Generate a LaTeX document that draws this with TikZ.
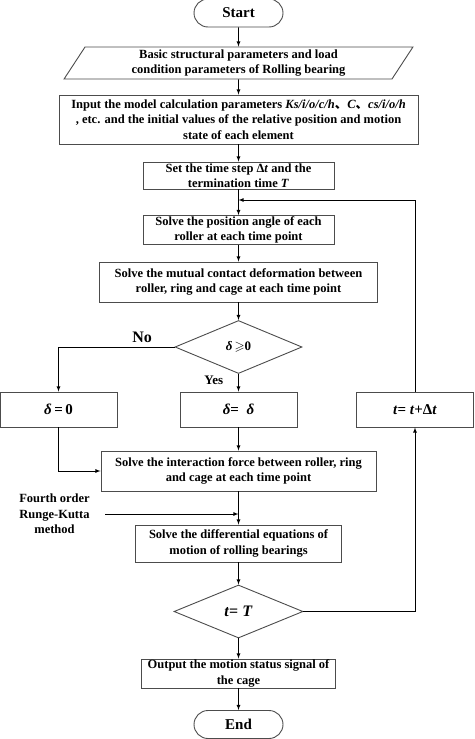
\documentclass[tikz,border=0pt]{standalone}
\usepackage{amssymb}
\usepackage{fontspec}
\setmainfont{Liberation Serif}
\newfontfamily\cjk{Noto Sans CJK SC}
\usetikzlibrary{shapes.geometric,shapes.misc,positioning}
\tikzset{
	block/.style    = {draw=black!70, fill=white, rectangle, line width=0.9pt, align=center, inner sep=1pt, font=\bfseries\fontsize{12.5}{15.5}\selectfont},
	io/.style       = {block, trapezium, trapezium left angle=63, trapezium right angle=117, trapezium stretches=true},
	decision/.style = {block, diamond, inner sep=0pt, minimum width=127pt, minimum height=53pt},
	terminal/.style = {block, rounded rectangle, minimum width=91pt, minimum height=28pt, font=\bfseries\fontsize{15}{17}\selectfont},
	note/.style     = {align=center, inner sep=0pt, font=\bfseries\fontsize{12.5}{15.5}\selectfont},
	hidden/.style   = {coordinate},
}

\begin{document}
\begin{tikzpicture}[x=1pt, y=1pt, >=latex, line width=0.8pt]
		\useasboundingbox (0,0) rectangle (474,-739);
		% Draw the main column nodes
		\draw
		node[terminal] at (238.5,-13) (start) {Start}
		node[io      , below of = start  , node distance = 50pt  , minimum width=349pt, minimum height=32pt] (params) {Basic structural parameters and load\\condition parameters of Rolling bearing}
		node[block   , below of = params , node distance = 56.5pt, minimum width=359pt, minimum height=49pt] (input) {Input the model calculation parameters \textit{Ks/i/o/c/h}{\cjk 、}\textit{C}{\cjk 、}\textit{cs/i/o/h}\\, etc. and the initial values of the relative position and motion\\state of each element}
		node[block   , below of = input  , node distance = 56pt  , minimum width=191pt, minimum height=27pt] (timestep) {Set the time step Δ\textit{t} and the\\termination time \textit{T}}
		node[hidden  , below of = timestep, node distance = 24.5pt] (loopin) {}
		node[block   , below of = timestep, node distance = 54.5pt, minimum width=191pt, minimum height=28pt] (angle) {Solve the position angle of each\\roller at each time point}
		node[block   , below of = angle  , node distance = 52pt  , minimum width=278pt, minimum height=40pt] (contact) {Solve the mutual contact deformation between\\roller, ring and cage at each time point}
		node[decision, below of = contact, node distance = 65pt, font=\bfseries\fontsize{13}{15}\selectfont] (check) {\textit{δ}\,$\geqslant$0};
		
		% Draw the branch nodes
		\draw
		node[block   , below of = check  , node distance = 62.5pt, minimum width=117pt, minimum height=35pt, font=\bfseries\fontsize{15}{17}\selectfont] (keep) {\textit{δ}= \ \textit{δ}}
		node[block   , left of = keep    , node distance = 180pt , minimum width=117pt, minimum height=35pt, font=\bfseries\fontsize{15}{17}\selectfont] (zero) {\textit{δ}\,=\,0}
		node[block   , right of = keep   , node distance = 176.5pt, minimum width=117pt, minimum height=35pt, font=\bfseries\fontsize{15}{17}\selectfont] (step) {\textit{t}= \textit{t}+Δ\textit{t}}
		node[block   , below of = keep   , node distance = 61.5pt, minimum width=275pt, minimum height=40pt] (force) {Solve the interaction force between roller, ring\\and cage at each time point}
		node[block   , below of = force  , node distance = 72.5pt, minimum width=206pt, minimum height=37pt] (motion) {Solve the differential equations of\\motion of rolling bearings}
		node[note    , left of = motion  , node distance = 184pt , yshift=29.5pt] (rk) {Fourth order\\Runge-Kutta\\method}
		node[decision, below of = motion , node distance = 68pt, minimum width=129pt, font=\bfseries\fontsize{16}{18}\selectfont] (done) {\textit{t}= \textit{T}}
		node[block   , below of = done   , node distance = 62pt  , minimum width=194pt, minimum height=29pt] (result) {Output the motion status signal of\\the cage}
		node[terminal, below of = result , node distance = 51pt] (end) {End};
		
		% Connect everything together
		\draw[->] (start) -- (params);
		\draw[->] (params) -- (input);
		\draw[->] (input) -- (timestep);
		\draw[->] (timestep) -- (angle);
		\draw[->] (angle) -- (contact);
		\draw[->] (contact) -- (check);
		\draw[->] (check) -- node[pos=0.35, anchor=east, note, font=\bfseries\fontsize{13}{15}\selectfont, xshift=-15pt] {Yes} (keep);
		\draw[->] (check.west) -| node[pos=0.14, above, note, font=\bfseries\fontsize{16}{18}\selectfont, yshift=4pt] {No} (zero.north);
		\draw[->] (keep) -- (force);
		\draw[->] (zero.south) |- (force.west);
		\draw[->] (force) -- (motion);
		\draw[->] ([xshift=15pt]rk.east) -- (rk.east -| motion.north);
		\draw[->] (motion) -- (done);
		\draw[->] (done) -- (result);
		\draw[->] (result) -- (end);
		
		\draw[->] (done.east) -| (step.south);
		\draw[->] (step.north) |- (loopin);
	\end{tikzpicture}
\end{document}
